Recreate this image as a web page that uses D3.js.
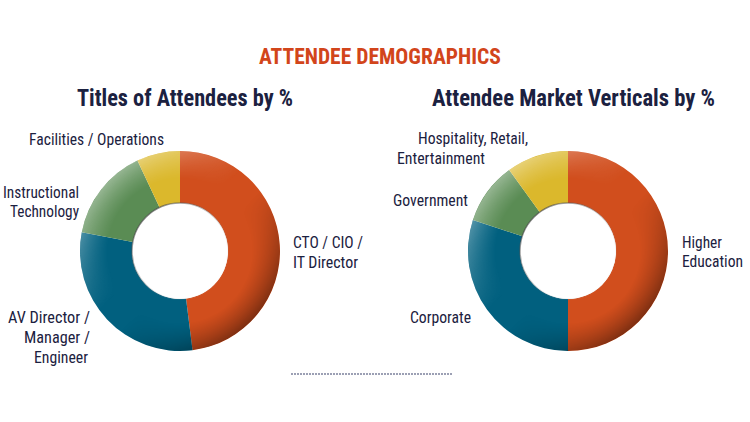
<!DOCTYPE html>
<html><head><meta charset="utf-8">
<script src="https://cdn.jsdelivr.net/npm/d3@7"></script>
<style>body{margin:0;background:#fff}</style></head>
<body>
<svg id="c" width="750" height="422"></svg>
<script>
// ---- data ----
const mainTitle = "ATTENDEE DEMOGRAPHICS";
const leftTitle = "Titles of Attendees by %";
const leftCategories = ["CTO / CIO / IT Director", "AV Director / Manager / Engineer", "Instructional Technology", "Facilities / Operations"];
const leftValues = [48, 30, 15, 7];
const rightTitle = "Attendee Market Verticals by %";
const rightCategories = ["Higher Education", "Corporate", "Government", "Hospitality, Retail, Entertainment"];
const rightValues = [50, 30, 10, 10];

// ---- layout / style ----
const sliceColors = ["#D14E1D", "#01607F", "#5A8C54", "#DBB82C"];
const navy = "#1B2140";
const narrow = "'Liberation Sans Narrow','Arial Narrow','Roboto Condensed','Liberation Sans',sans-serif";

// label lines per category: [text, x, baseline, anchor, width]
const leftLabelLayout = [
  [["CTO / CIO /", 293, 248, "start", 70], ["IT Director", 293, 268, "start", 65]],
  [["AV Director /", 90, 323, "end", 82], ["Manager /", 90, 343, "end", 66], ["Engineer", 88, 363, "end", 54]],
  [["Instructional", 79, 198, "end", 76], ["Technology", 79, 217, "end", 69]],
  [["Facilities / Operations", 29, 145, "start", 135]]
];
const rightLabelLayout = [
  [["Higher", 682, 248, "start", 40], ["Education", 682, 267, "start", 61]],
  [["Corporate", 410, 323, "start", 61]],
  [["Government", 393, 206, "start", 75]],
  [["Hospitality, Retail,", 418, 144, "start", 110], ["Entertainment", 397, 164, "start", 88]]
];

const svg = d3.select("#c");
const defs = svg.append("defs");

// shading gradients
const lg = defs.append("linearGradient").attr("id", "shade")
  .attr("x1", "0%").attr("y1", "0%").attr("x2", "100%").attr("y2", "100%");
lg.append("stop").attr("offset", "0%").attr("stop-color", "#fff").attr("stop-opacity", 0.55);
lg.append("stop").attr("offset", "45%").attr("stop-color", "#fff").attr("stop-opacity", 0.0);
lg.append("stop").attr("offset", "55%").attr("stop-color", "#000").attr("stop-opacity", 0.0);
lg.append("stop").attr("offset", "100%").attr("stop-color", "#000").attr("stop-opacity", 0.6);

const innerG = defs.append("linearGradient").attr("id", "innerShade")
  .attr("x1", "0%").attr("y1", "0%").attr("x2", "100%").attr("y2", "100%");
innerG.append("stop").attr("offset", "0%").attr("stop-color", "#333").attr("stop-opacity", 0.8);
innerG.append("stop").attr("offset", "60%").attr("stop-color", "#888").attr("stop-opacity", 0.2);
innerG.append("stop").attr("offset", "100%").attr("stop-color", "#fff").attr("stop-opacity", 0);

// main title
svg.append("text").attr("x", 259).attr("y", 64)
  .attr("textLength", 242).attr("lengthAdjust", "spacingAndGlyphs")
  .attr("font-family", narrow).attr("font-weight", "bold").attr("font-size", 22)
  .attr("fill", "#D2451B").text(mainTitle);

function donut(cx, cy, values, title, titleX, titleW, labelLayout, id) {
  const rOut = 100, rIn = 48;
  const g = svg.append("g").attr("transform", `translate(${cx},${cy})`);
  const pie = d3.pie().sort(null).value(d => d)(values);
  const arc = d3.arc().innerRadius(rIn).outerRadius(rOut);
  g.selectAll("path.slice").data(pie).join("path").attr("class", "slice")
    .attr("d", arc).attr("fill", (d, i) => sliceColors[i]);

  // edge mask (only near outer radius)
  const rg = defs.append("radialGradient").attr("id", "em" + id)
    .attr("gradientUnits", "userSpaceOnUse").attr("cx", 0).attr("cy", 0).attr("r", rOut);
  rg.append("stop").attr("offset", "0.72").attr("stop-color", "#000");
  rg.append("stop").attr("offset", "1").attr("stop-color", "#fff");
  const m = defs.append("mask").attr("id", "m" + id).attr("maskUnits", "userSpaceOnUse")
    .attr("x", -120).attr("y", -120).attr("width", 240).attr("height", 240);
  m.append("circle").attr("r", rOut).attr("fill", `url(#em${id})`);
  g.append("path").attr("d", d3.arc().innerRadius(rIn).outerRadius(rOut).startAngle(0).endAngle(2 * Math.PI)())
    .attr("fill", "url(#shade)").attr("mask", `url(#m${id})`);
  // inner rim shadow
  g.append("circle").attr("r", rIn).attr("fill", "#fff")
    .attr("stroke", "url(#innerShade)").attr("stroke-width", 1.5);

  svg.append("text").attr("x", titleX).attr("y", 106)
    .attr("textLength", titleW).attr("lengthAdjust", "spacingAndGlyphs")
    .attr("font-family", narrow).attr("font-weight", "bold").attr("font-size", 23)
    .attr("fill", navy).text(title);

  labelLayout.forEach(lines => lines.forEach(([t, x, y, a, w]) => {
    svg.append("text").attr("x", x).attr("y", y).attr("text-anchor", a)
      .attr("textLength", w).attr("lengthAdjust", "spacingAndGlyphs")
      .attr("font-family", narrow).attr("font-size", 16).attr("fill", navy).text(t);
  }));
}

donut(180, 251, leftValues, leftTitle, 77, 216, leftLabelLayout, "L");
donut(568, 251, rightValues, rightTitle, 432, 283, rightLabelLayout, "R");

// dotted separator
svg.append("line").attr("x1", 291).attr("x2", 453).attr("y1", 374).attr("y2", 374)
  .attr("stroke", "#7C819C").attr("stroke-width", 1.5).attr("stroke-dasharray", "2,1");
</script>
</body></html>
